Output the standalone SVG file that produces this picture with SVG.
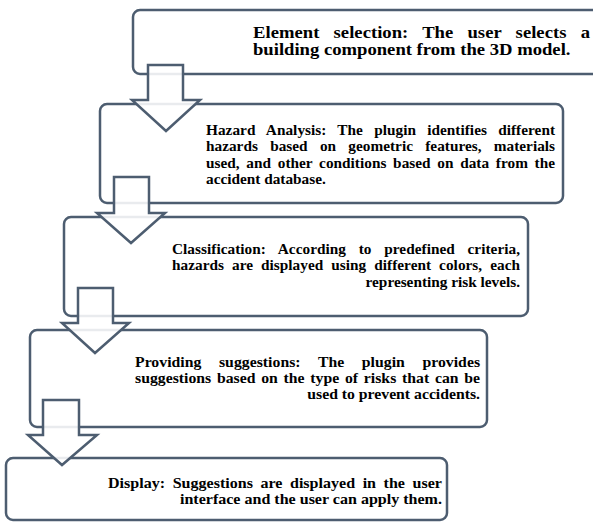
<svg xmlns="http://www.w3.org/2000/svg" width="593" height="522" viewBox="0 0 593 522">
<style>
.box{fill:#ffffff;stroke:#4d5d70;stroke-width:2.5}
.arr{fill:#ffffff;fill-opacity:0.88;stroke:#4d5d70;stroke-width:2.5;stroke-linejoin:miter}
.t{font-family:'Liberation Serif','Times New Roman',serif;font-weight:bold;font-size:15px;fill:#000000}
.big{font-size:16.5px}
.r{text-anchor:end}
</style>
<rect width="593" height="522" fill="#ffffff"/>
<g id="node1">
<rect class="box" x="133" y="10" width="490" height="64" rx="7"/>
<g transform="translate(253,0) scale(1.13,1)">
<text class="t big" x="0" y="38" textLength="298.2" lengthAdjust="spacing" word-spacing="8.4">Element selection: The user selects a</text>
<text class="t big" x="0" y="55">building component from the 3D model.</text>
</g>
</g>
<g id="node2">
<rect class="box" x="100" y="104" width="463" height="99" rx="7"/>
<g transform="translate(206,0) scale(1.02,1)">
<text class="t" x="0" y="135" textLength="342.2" lengthAdjust="spacing" word-spacing="7.2">Hazard Analysis: The plugin identifies different</text>
<text class="t" x="0" y="151.5" textLength="342.2" lengthAdjust="spacing" word-spacing="8.3">hazards based on geometric features, materials</text>
<text class="t" x="0" y="168" textLength="342.2" lengthAdjust="spacing" word-spacing="2.8">used, and other conditions based on data from the</text>
<text class="t" x="0" y="184.5">accident database.</text>
</g>
</g>
<g id="node3">
<rect class="box" x="64" y="217" width="464" height="99" rx="7"/>
<g transform="translate(172,0) scale(1.02,1)">
<text class="t" x="0" y="254" textLength="341.2" lengthAdjust="spacing" word-spacing="8.7">Classification: According to predefined criteria,</text>
<text class="t" x="0" y="270.5" textLength="341.2" lengthAdjust="spacing" word-spacing="4.1">hazards are displayed using different colors, each</text>
<text class="t r" x="341.2" y="287.5">representing risk levels.</text>
</g>
</g>
<g id="node4">
<rect class="box" x="30" y="330" width="457" height="97" rx="7"/>
<g transform="translate(135,0) scale(1.05,1)">
<text class="t" x="0" y="367" textLength="328.6" lengthAdjust="spacing" word-spacing="13">Providing suggestions: The plugin provides</text>
<text class="t" x="0" y="383" textLength="328.6" lengthAdjust="spacing" word-spacing="1.7">suggestions based on the type of risks that can be</text>
<text class="t r" x="328.6" y="399">used to prevent accidents.</text>
</g>
</g>
<g id="node5">
<rect class="box" x="6" y="458" width="441" height="62" rx="7"/>
<g transform="translate(108,0) scale(1.07,1)">
<text class="t" x="0" y="488" textLength="312.1" lengthAdjust="spacing" word-spacing="3.3">Display: Suggestions are displayed in the user</text>
<text class="t r" x="312.1" y="504">interface and the user can apply them.</text>
</g>
</g>
<g id="connectors">
<polygon class="arr" points="148,65 183,65 183,100 200,100 166,131 132,100 148,100"/>
<polygon class="arr" points="114,177 149,177 149,213 165,213 131,243 97,213 114,213"/>
<polygon class="arr" points="78,288 113,288 113,323 129,323 95,353 62,323 78,323"/>
<polygon class="arr" points="43,400 79,400 79,435 97,435 62,465 28,435 43,435"/>
</g>
</svg>
